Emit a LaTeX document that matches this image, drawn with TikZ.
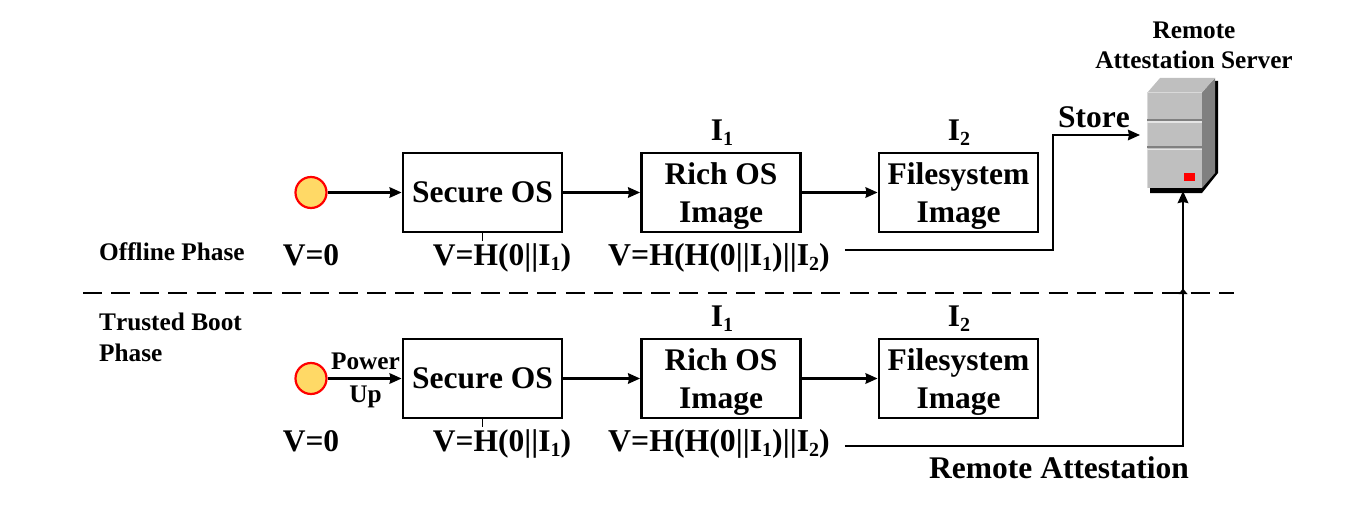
\documentclass[tikz,border=0pt]{standalone}
\usepackage{fontspec}
\setmainfont[Kerning=Off,Ligatures=CommonOff]{Liberation Serif}
\usetikzlibrary{arrows.meta}
\newcommand{\subsc}[1]{{\fontsize{20}{20}\selectfont\raisebox{-5pt}{#1}}}
\newcommand{\toppad}{\rule{0pt}{29pt}}
\definecolor{dotfill}{HTML}{FFD966}
\tikzset{
  x=1pt,y=-1pt,
  big/.style={font=\bfseries\fontsize{31.5}{38.5}\selectfont},
  small/.style={font=\bfseries\fontsize{25.3}{30}\selectfont},
  lab/.style={big,inner sep=0pt,anchor=base},
  slab/.style={small,inner sep=0pt,anchor=base},
  stagebox/.style={big,draw=black,line width=2.9pt,minimum width=159pt,minimum height=79pt,inner sep=0pt,align=center},
  startdot/.style={circle,draw=red,line width=2.2pt,fill=dotfill,minimum size=31pt,inner sep=0pt},
  conn/.style={line width=2.2pt,-{Stealth[length=12pt,width=10.5pt,inset=1pt]}},
  hashlab/.style={font=\bfseries\fontsize{31.8}{38.5}\selectfont,inner ysep=0pt,inner xsep=15pt},
  sep/.style={line width=2.2pt,dash pattern=on 19pt off 9.4pt},
}
\begin{document}
\begin{tikzpicture}
\useasboundingbox (0,0) rectangle (1350,511);
% server
\fill[black] (1150,193) -- (1202,193) -- (1218,173) -- (1218,81) -- (1205,81) -- (1150,180) -- cycle;
\fill[black!50] (1202,93) -- (1215,78) -- (1215,173) -- (1202,188) -- cycle;
\fill[black!25] (1147,93) -- (1160,78) -- (1215,78) -- (1202,93) -- cycle;
\fill[black!25] (1147,93) rectangle (1202,188);
\draw[white!85!black,line width=1pt] (1147,188) -- (1147,93) -- (1202,93);
\draw[black!50,line width=1.6pt] (1147,120) -- (1202,120);
\draw[white!90!black,line width=1.2pt] (1147,122) -- (1202,122);
\draw[black!50,line width=1.6pt] (1147,147) -- (1202,147);
\draw[white!90!black,line width=1.2pt] (1147,149.5) -- (1202,149.5);
\fill[red] (1184,173) rectangle (1195,181);
\coordinate (serverLeft) at (1140,135);
\coordinate (serverBottom) at (1183,191);
\node[slab] (srvA) at (1194,39) {Remote};
\node[slab] (srvB) at (1194,69) {Attestation Server};
% phases
\node[slab,anchor=base west] (off) at (99,260) {Offline Phase};
\node[slab,anchor=base west] (trA) at (99,330) {Trusted Boot};
\node[slab,anchor=base west] (trB) at (99,361) {Phase};
\draw[sep] (83,293) -- (1234,293);
\fill[black] (1178.5,294) -- (1183,288.5) -- (1187.5,294) -- cycle;
% upper row
\node[startdot] (d1) at (311,192.5) {};
\node[stagebox] (s1) at (482.5,192.5) {Secure OS};
\node[stagebox] (r1) at (721,192.5) {\toppad Rich OS\\Image};
\node[stagebox] (f1) at (958.5,192.5) {\toppad Filesystem\\Image};
\draw[conn] (d1) -- (s1);
\draw[conn] (s1) -- (r1);
\draw[conn] (r1) -- (f1);
\node[lab] (i1a) at (722,140.5) {I\subsc{1}};
\node[lab] (i2a) at (959,140.5) {I\subsc{2}};
\node[lab] (v0a) at (311,265) {V=0};
\node[lab] (h1a) at (502,265) {V=H(0||I\subsc{1})};
\node[hashlab,text height=32pt,text depth=2pt] (h2a) at (719,250) {V=H(H(0||I\subsc{1})||I\subsc{2})};
\draw[line width=1pt] (s1.south) -- ++(0,8);
\coordinate (storeCorner) at (1053,135);
\draw[conn] (h2a.east) -| (storeCorner) -- (serverLeft);
\node[lab,anchor=base west] (store) at (1058,127) {Store};
% lower row
\node[startdot] (d2) at (311,378.5) {};
\node[stagebox] (s2) at (482.5,378.5) {Secure OS};
\node[stagebox] (r2) at (721,378.5) {\toppad Rich OS\\Image};
\node[stagebox] (f2) at (958.5,378.5) {\toppad Filesystem\\Image};
\draw[conn] (d2) -- (s2);
\draw[conn] (s2) -- (r2);
\draw[conn] (r2) -- (f2);
\node[slab] (pw) at (365.5,369) {Power};
\node[slab] (up) at (365.5,402) {Up};
\node[lab] (i1b) at (722,326.5) {I\subsc{1}};
\node[lab] (i2b) at (959,326.5) {I\subsc{2}};
\node[lab] (v0b) at (311,451) {V=0};
\node[lab] (h1b) at (502,451) {V=H(0||I\subsc{1})};
\node[hashlab,text height=22pt,text depth=12pt] (h2b) at (719,446) {V=H(H(0||I\subsc{1})||I\subsc{2})};
\draw[line width=1pt] (s2.south) -- ++(0,8);
\draw[conn] (h2b.east) -| (serverBottom);
\node[lab,anchor=base west] (ra) at (929,478) {Remote Attestation};
\end{tikzpicture}
\end{document}
